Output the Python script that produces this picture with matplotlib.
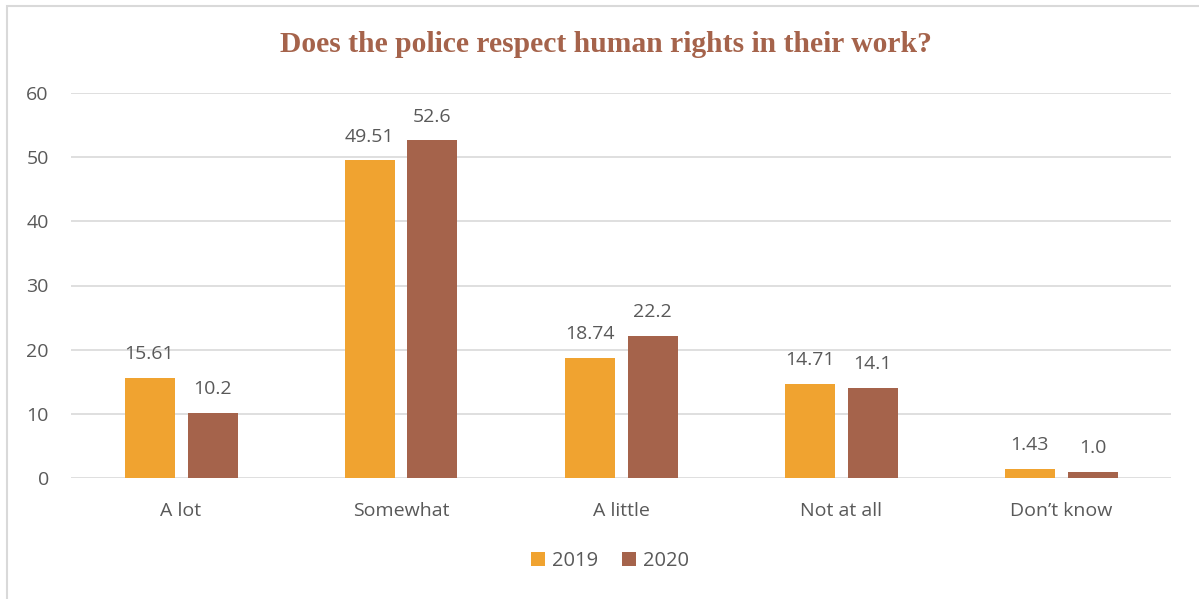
import matplotlib.pyplot as plt
from matplotlib.patches import Rectangle
import numpy as np

categories = ["A lot", "Somewhat", "A little", "Not at all", "Don\u2019t know"]
v2019 = [15.61, 49.51, 18.74, 14.71, 1.43]
v2020 = [10.2, 52.6, 22.2, 14.1, 1.0]
labels2019 = ["15.61", "49.51", "18.74", "14.71", "1.43"]
labels2020 = ["10.2", "52.6", "22.2", "14.1", "1.0"]

c2019 = "#F0A330"
c2020 = "#A5634B"
grey = "#595959"
plt.rcParams['font.family'] = ['Open Sans', 'DejaVu Sans']

fig = plt.figure(figsize=(11.99, 5.99), dpi=100)
# outer chart frame
fig.patches.append(Rectangle((6.5 / 1199, -0.1), 1.2, (599 - 6.5) / 599 + 0.1,
                             transform=fig.transFigure, fill=False,
                             edgecolor="#D9D9D9", linewidth=1.5))

ax = fig.add_axes([71 / 1199, (599 - 478) / 599, 1100 / 1199, 385 / 599])
x = np.arange(len(categories))
w = 50 / 220
off = 31.5 / 220
b1 = ax.bar(x - off, v2019, w, color=c2019, label="2019")
b2 = ax.bar(x + off, v2020, w, color=c2020, label="2020")

for bars, labs in ((b1, labels2019), (b2, labels2020)):
    for b, t in zip(bars, labs):
        ax.annotate(t, (b.get_x() + b.get_width() / 2, b.get_height()),
                    xytext=(0, 13.5), textcoords="offset points",
                    ha="center", va="baseline", fontsize=14, color=grey)

ax.set_xlim(-0.5, len(categories) - 0.5)
ax.set_ylim(0, 60)
ax.set_yticks(range(0, 61, 10))
ax.set_xticks(x)
ax.set_xticklabels(categories)
ax.tick_params(length=0, labelsize=14, colors=grey)
ax.tick_params(axis="x", pad=17)
ax.tick_params(axis="y", pad=16)
ax.grid(axis="y", color="#D9D9D9", linewidth=1.2)
ax.set_axisbelow(True)
for s in ax.spines.values():
    s.set_visible(False)

fig.text(606 / 1199, 1 - 45 / 599, "Does the police respect human rights in their work?",
         ha="center", va="center", fontsize=21.3, fontweight="bold",
         family="Liberation Serif", color="#A5634B")

fig.legend(loc="center", bbox_to_anchor=(610 / 1199, 1 - 561 / 599), ncol=2,
           frameon=False, fontsize=14.5, labelcolor=grey, handlelength=0.7,
           handleheight=0.7, handletextpad=0.35, columnspacing=1.2)

fig.savefig("out.png", dpi=100)
